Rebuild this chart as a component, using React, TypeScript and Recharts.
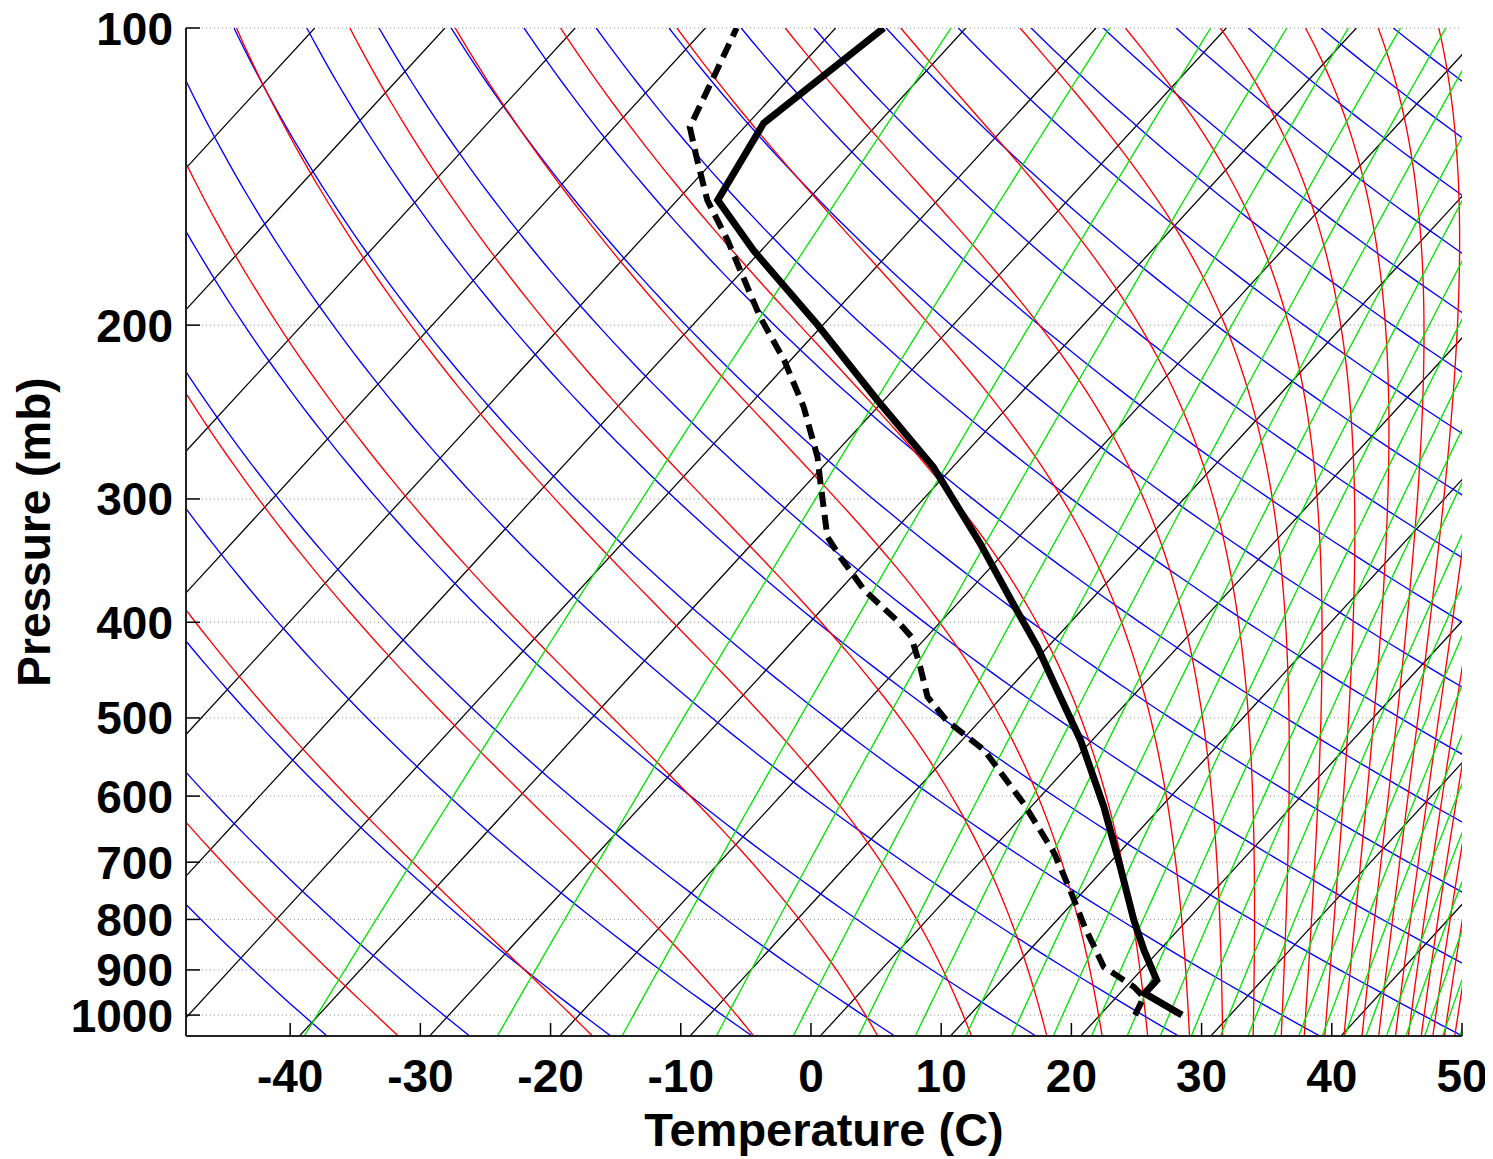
import React from "react";
import { LineChart, Line, XAxis, YAxis, CartesianGrid } from "recharts";

// ---------- chart data ----------
const pressureTicks = [100, 200, 300, 400, 500, 600, 700, 800, 900, 1000];
const temperatureTicks = [-40, -30, -20, -10, 0, 10, 20, 30, 40, 50];

// black isotherms (deg C)
const isothermsC = [-120, -110, -100, -90, -80, -70, -60, -50, -40, -30, -20, -10, 0, 10, 20, 30, 40];
// blue dry adiabats (theta, K, as placed in the picture)
const dryAdiabatsK = [
  225.7, 236.4, 247.2, 257.9, 268.6, 279.4, 290.1, 300.9, 311.6, 322.4, 333.1, 343.8, 354.6,
  365.3, 376.1, 386.8, 397.6, 408.3, 419.0, 429.8, 440.5, 451.3, 462.0, 472.8, 483.5,
];
// red moist adiabats: temperature (deg C) where each crosses 1000 mb
const moistAdiabatsT1000 = [
  -35.6, -20.6, -7.9, 2.0, 9.5, 15.5, 19.9, 23.5, 26.8, 29.4, 31.8, 34.0, 35.8, 37.4, 38.9,
  40.3, 41.6, 42.9, 43.9, 44.9, 45.8, 46.7, 47.5,
];
// green saturation mixing ratio lines (g/kg)
const mixingRatiosGkg = [
  0.125, 0.5, 1.125, 2, 3.125, 4.5, 6.125, 8, 10.125, 12.5, 15.125, 18, 21.125, 24.5, 28.125,
  32, 36.125, 40.5, 45.125, 50, 55.125, 60.5, 66.125, 72, 78.125, 84.5,
];

// sounding: temperature (solid)
const tempP = [1000, 950.6, 921.8, 859.4, 801.3, 707.7, 615.2, 526.6, 476.1, 423.6, 380.0, 332.8, 278.4, 238.3, 199.6, 168.0, 149.4, 124.9, 100];
const tempC = [26.3, 21.9, 21.9, 18.8, 15.9, 11.1, 5.6, -0.9, -5.5, -10.8, -16.1, -22.5, -31.5, -40.5, -50.5, -60.6, -66.9, -68.8, -66.3];
// sounding: dew point (dashed)
const dewP = [1000, 959, 936.1, 893.8, 814.0, 747.3, 686.0, 610.4, 538.9, 502.8, 476.1, 443.7, 413.7, 398.0, 371.1, 343.4, 327.7, 289.3, 272.0, 242.0, 217.0, 196.2, 164.1, 149.4, 136.1, 126.0, 112.1, 100];
const dewC = [22.7, 22.1, 20.6, 16.9, 12.6, 8.9, 5.1, -0.8, -7.6, -12.6, -15.7, -18.4, -21.2, -23.5, -28.1, -32.3, -34.7, -39.0, -41.1, -45.7, -50.5, -55.4, -63.3, -67.7, -71.3, -74.2, -75.9, -77.6];

// ---------- skew-T geometry ----------
const SKEW = 69.7; // deg C per decade of pressure
const P_REF = 1075;
const P_TOP = 100;
const P_BOT = 1050;
const DRY_OFFSET = 277.6; // Kelvin offset fitted to the picture's dry adiabats

const skewX = (tc: number, p: number) => tc + SKEW * Math.log10(P_REF / p);

// sampling levels for drawing curves
const levels: number[] = [];
for (let i = 0; i <= 90; i++) levels.push(P_BOT * Math.pow(P_TOP / P_BOT, i / 90));

const RD = 287.04, CP = 1005.7, LV = 2.5e6, RV = 461.5, EPS = 0.622;
const esat = (tk: number) => 6.11 * Math.exp((LV / RV) * (1 / 273.15 - 1 / tk));
const dTdlnp = (tk: number, p: number) => {
  const e = esat(tk);
  const rs = (EPS * e) / (p - e);
  return (RD * tk + LV * rs) / (CP + (LV * LV * rs * EPS) / (RD * tk * tk));
};
const rk4 = (tk: number, lnp: number, h: number) => {
  const k1 = dTdlnp(tk, Math.exp(lnp));
  const k2 = dTdlnp(tk + (h * k1) / 2, Math.exp(lnp + h / 2));
  const k3 = dTdlnp(tk + (h * k2) / 2, Math.exp(lnp + h / 2));
  const k4 = dTdlnp(tk + h * k3, Math.exp(lnp + h));
  return tk + (h / 6) * (k1 + 2 * k2 + 2 * k3 + k4);
};

type Pt = { x: number; p: number };

function moistCurve(t1000: number): Pt[] {
  const up: Pt[] = [];
  let tk = t1000 + 273.15;
  let lnp = Math.log(1000);
  const nUp = 90;
  const hUp = (Math.log(P_TOP) - lnp) / nUp;
  up.push({ x: skewX(tk - 273.15, 1000), p: 1000 });
  for (let i = 0; i < nUp; i++) {
    tk = rk4(tk, lnp, hUp);
    lnp += hUp;
    up.push({ x: skewX(tk - 273.15, Math.exp(lnp)), p: Math.exp(lnp) });
  }
  const down: Pt[] = [];
  tk = t1000 + 273.15;
  lnp = Math.log(1000);
  const nDn = 5;
  const hDn = (Math.log(P_BOT) - lnp) / nDn;
  for (let i = 0; i < nDn; i++) {
    tk = rk4(tk, lnp, hDn);
    lnp += hDn;
    down.push({ x: skewX(tk - 273.15, Math.exp(lnp)), p: Math.exp(lnp) });
  }
  return [...down.reverse(), ...up];
}

const isoSeries: Pt[][] = isothermsC.map((t) => [
  { x: skewX(t, P_BOT), p: P_BOT },
  { x: skewX(t, P_TOP), p: P_TOP },
]);
const drySeries: Pt[][] = dryAdiabatsK.map((th) =>
  levels.map((p) => ({ x: skewX(th * Math.pow(p / 1000, 0.2857) - DRY_OFFSET, p), p }))
);
const moistSeries: Pt[][] = moistAdiabatsT1000.map((t) => moistCurve(t));
const mixSeries: Pt[][] = mixingRatiosGkg.map((w) =>
  levels.map((p) => {
    const e = (p * w) / (622 + w);
    const tk = 1 / (1 / 273.15 - (RV / LV) * Math.log(e / 6.11));
    return { x: skewX(tk - 273.15, p), p };
  })
);
const tempSeries: Pt[] = tempP.map((p, i) => ({ x: skewX(tempC[i], p), p }));
const dewSeries: Pt[] = dewP.map((p, i) => ({ x: skewX(dewC[i], p), p }));

// ---------- styling ----------
const FONT = '"Liberation Sans", Arial, Helvetica, sans-serif';
const FRAME = "#222";
const TICK_FONT = 46;

function BottomTick(props: any) {
  const { x, y, payload } = props;
  return (
    <g>
      <line x1={x} y1={y} x2={x} y2={y - 13} stroke="#000" strokeWidth={1.5} />
      <text x={x} y={y + 56} textAnchor="middle" fontFamily={FONT} fontWeight="bold" fontSize={TICK_FONT} fill="#000">
        {payload.value}
      </text>
    </g>
  );
}
function TopTick(props: any) {
  const { x, y } = props;
  return <line x1={x} y1={y} x2={x} y2={y + 13} stroke="#000" strokeWidth={1.5} />;
}
function LeftTick(props: any) {
  const { x, y, payload } = props;
  return (
    <g>
      <line x1={x} y1={y} x2={x + 14} y2={y} stroke="#000" strokeWidth={1.5} />
      <text x={x - 13} y={y + 16.5} textAnchor="end" fontFamily={FONT} fontWeight="bold" fontSize={TICK_FONT} fill="#000">
        {payload.value}
      </text>
    </g>
  );
}
function RightTick(props: any) {
  const { x, y } = props;
  return <line x1={x} y1={y} x2={x - 13} y2={y} stroke="#000" strokeWidth={1.5} />;
}

const thin = { dot: false, activeDot: false, isAnimationActive: false, strokeWidth: 1.35, type: "linear" as const, dataKey: "p", legendType: "none" as const };

export default function App() {
  return (
    <LineChart width={1485} height={1151} margin={{ top: 20, right: 31, left: 0, bottom: 0 }}>
      <CartesianGrid vertical={false} stroke="#8c8c8c" strokeDasharray="1 3" />
      <XAxis
        dataKey="x"
        type="number"
        domain={[-48, 50]}
        allowDataOverflow
        ticks={temperatureTicks}
        interval={0}
        tickSize={0}
        tickMargin={0}
        tickLine={false}
        tick={BottomTick}
        height={123}
        axisLine={{ stroke: FRAME, strokeWidth: 2 }}
        label={(props: any) => {
          const vb = props && props.viewBox;
          const cx = vb && typeof vb.x === "number" ? vb.x + vb.width / 2 : 816;
          const y = vb && typeof vb.y === "number" ? vb.y + 110 : 1138;
          return (
            <text x={cx} y={y} textAnchor="middle" fontFamily={FONT} fontWeight="bold" fontSize={47} fill="#000">
              Temperature (C)
            </text>
          );
        }}
      />
      <XAxis
        xAxisId="top"
        orientation="top"
        dataKey="x"
        type="number"
        domain={[-48, 50]}
        allowDataOverflow
        ticks={temperatureTicks}
        interval={0}
        tickSize={0}
        tickMargin={0}
        tickLine={false}
        tick={TopTick}
        height={0}
        axisLine={{ stroke: FRAME, strokeWidth: 2 }}
      />
      <YAxis
        dataKey="p"
        type="number"
        scale="log"
        domain={[P_TOP, P_BOT]}
        allowDataOverflow
        reversed
        ticks={pressureTicks}
        interval={0}
        tickSize={0}
        tickMargin={0}
        tickLine={false}
        tick={LeftTick}
        width={178}
        axisLine={{ stroke: FRAME, strokeWidth: 2 }}
        label={(props: any) => {
          const vb = props && props.viewBox;
          const cy = vb && typeof vb.y === "number" ? vb.y + vb.height / 2 : 524;
          const x = 42;
          return (
            <text x={x} y={cy} transform={`rotate(-90, ${x}, ${cy})`} textAnchor="middle" fontFamily={FONT} fontWeight="bold" fontSize={46} fill="#000">
              Pressure (mb)
            </text>
          );
        }}
      />
      <YAxis
        yAxisId="right"
        orientation="right"
        dataKey="p"
        type="number"
        scale="log"
        domain={[P_TOP, P_BOT]}
        allowDataOverflow
        reversed
        ticks={pressureTicks}
        interval={0}
        tickSize={0}
        tickMargin={0}
        tickLine={false}
        tick={RightTick}
        width={0}
        axisLine={{ stroke: FRAME, strokeWidth: 2 }}
      />

      {isoSeries.map((d, i) => (
        <Line key={`iso${i}`} {...thin} data={d} stroke="#000000" strokeWidth={1.25} />
      ))}
      {drySeries.map((d, i) => (
        <Line key={`dry${i}`} {...thin} data={d} stroke="#0000ff" />
      ))}
      {moistSeries.map((d, i) => (
        <Line key={`moist${i}`} {...thin} data={d} stroke="#ff0000" />
      ))}
      {mixSeries.map((d, i) => (
        <Line key={`mix${i}`} {...thin} data={d} stroke="#00e600" />
      ))}
      <Line
        key="dew"
        data={dewSeries}
        dataKey="p"
        type="linear"
        dot={false}
        activeDot={false}
        isAnimationActive={false}
        stroke="#000"
        strokeWidth={6}
        strokeDasharray="15 8"
        legendType="none"
      />
      <Line
        key="temp"
        data={tempSeries}
        dataKey="p"
        type="linear"
        dot={false}
        activeDot={false}
        isAnimationActive={false}
        stroke="#000"
        strokeWidth={7}
        strokeLinejoin="miter"
        legendType="none"
      />
    </LineChart>
  );
}
